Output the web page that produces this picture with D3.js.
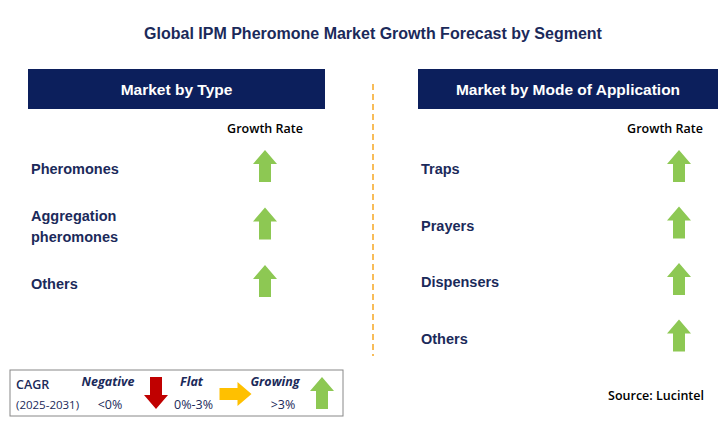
<!DOCTYPE html>
<html><head><meta charset="utf-8">
<script src="https://cdn.jsdelivr.net/npm/d3@7"></script>
<style>body{margin:0;background:#fff}svg{display:block}</style>
</head><body>
<svg id="c" width="727" height="422"></svg>
<script>
const TITLE = "Global IPM Pheromone Market Growth Forecast by Segment";
const typeSegments = [["Pheromones"], ["Aggregation", "pheromones"], ["Others"]];
const typeTrend = ["up", "up", "up"];
const modeSegments = [["Traps"], ["Prayers"], ["Dispensers"], ["Others"]];
const modeTrend = ["up", "up", "up", "up"];
const legendItems = [
  { name: "Negative", range: "<0%", dir: "down" },
  { name: "Flat", range: "0%-3%", dir: "right" },
  { name: "Growing", range: ">3%", dir: "up" }
];

const NAVY = "#0c1f5c", TXT = "#1b2a5a";
const COL = { up: "#8dc853", down: "#c00000", right: "#ffc000" };
const svg = d3.select("#c");
const font = "'Liberation Sans', Arial, sans-serif";
const cal = "'Open Sans', sans-serif";

svg.append("text").attr("x", 373).attr("y", 39).attr("text-anchor", "middle")
  .attr("font-family", font).attr("font-weight", "bold").attr("font-size", 16)
  .attr("fill", TXT).text(TITLE);

svg.append("line").attr("x1", 373).attr("x2", 373).attr("y1", 84).attr("y2", 356)
  .attr("stroke", "#f5a623").attr("stroke-width", 1.5).attr("stroke-dasharray", "6,4");

// arrow centred at (0,0), pointing up, 24 wide x 32 tall
function arrowPath() {
  return "M0,-16 L12,-2 L6,-2 L6,16 L-6,16 L-6,-2 L-12,-2 Z";
}
function arrow(g, x, y, dir) {
  const rot = dir === "up" ? 0 : dir === "down" ? 180 : 90;
  g.append("path").attr("d", arrowPath())
    .attr("transform", `translate(${x},${y}) rotate(${rot})`)
    .attr("fill", COL[dir]);
}

function panel(x0, x1, title, segs, trend, arrowX, grX, step) {
  svg.append("rect").attr("x", x0).attr("y", 69).attr("width", x1 - x0).attr("height", 40).attr("fill", NAVY);
  svg.append("text").attr("x", (x0 + x1) / 2).attr("y", 95).attr("text-anchor", "middle")
    .attr("font-family", font).attr("font-weight", "bold").attr("font-size", 15.5).attr("fill", "#fff").text(title);
  svg.append("text").attr("x", grX).attr("y", 133).attr("text-anchor", "middle")
    .attr("font-family", cal).attr("font-weight", 600).attr("font-size", 12.5).attr("fill", "#000").text("Growth Rate");
  const y = d3.scalePoint().domain(d3.range(segs.length)).range([166, 166 + step * (segs.length - 1)]);
  segs.forEach((lines, i) => {
    const t = svg.append("text").attr("x", x0 + 3).attr("font-family", font).attr("font-weight", "bold")
      .attr("font-size", 14.5).attr("fill", TXT);
    lines.forEach((l, j) => t.append("tspan").attr("x", x0 + 3)
      .attr("y", y(i) + 8 + (j - (lines.length - 1) / 2) * 21).text(l));
    arrow(svg, arrowX, y(i), trend[i]);
  });
}
panel(28, 325, "Market by Type", typeSegments, typeTrend, 265, 265, 57.5);
panel(418, 718, "Market by Mode of Application", modeSegments, modeTrend, 679, 665, 56.5);

// legend
const lg = svg.append("g");
lg.append("rect").attr("x", 10).attr("y", 370).attr("width", 333).attr("height", 46)
  .attr("fill", "#fff").attr("stroke", "#888").attr("stroke-width", 1);
lg.append("text").attr("x", 16).attr("y", 389).attr("font-family", cal).attr("font-weight", 600)
  .attr("font-size", 12.5).attr("fill", TXT).text("CAGR");
lg.append("text").attr("x", 16).attr("y", 409).attr("font-family", cal).attr("font-size", 11.5)
  .attr("fill", TXT).text("(2025-2031)");
const lx = d3.scalePoint().domain(legendItems.map(d => d.name)).range([108, 275]);
legendItems.forEach(d => {
  const cx = lx(d.name);
  lg.append("text").attr("x", cx).attr("y", 386).attr("text-anchor", "middle")
    .attr("font-family", cal).attr("font-weight", "bold").attr("font-style", "italic")
    .attr("font-size", 12.5).attr("fill", TXT).text(d.name);
  lg.append("text").attr("x", cx + (d.dir === "up" ? 8 : 2)).attr("y", 409).attr("text-anchor", "middle")
    .attr("font-family", cal).attr("font-size", 12.5).attr("fill", TXT).text(d.range);
  const ax = d.dir === "right" ? cx + 44 : d.dir === "down" ? cx + 48 : cx + 47;
  arrow(lg, ax, d.dir === "right" ? 394 : 393, d.dir);
});

svg.append("text").attr("x", 704).attr("y", 400).attr("text-anchor", "end")
  .attr("font-family", cal).attr("font-weight", 600).attr("font-size", 12.5).attr("fill", "#000")
  .text("Source: Lucintel");
</script>
</body></html>
